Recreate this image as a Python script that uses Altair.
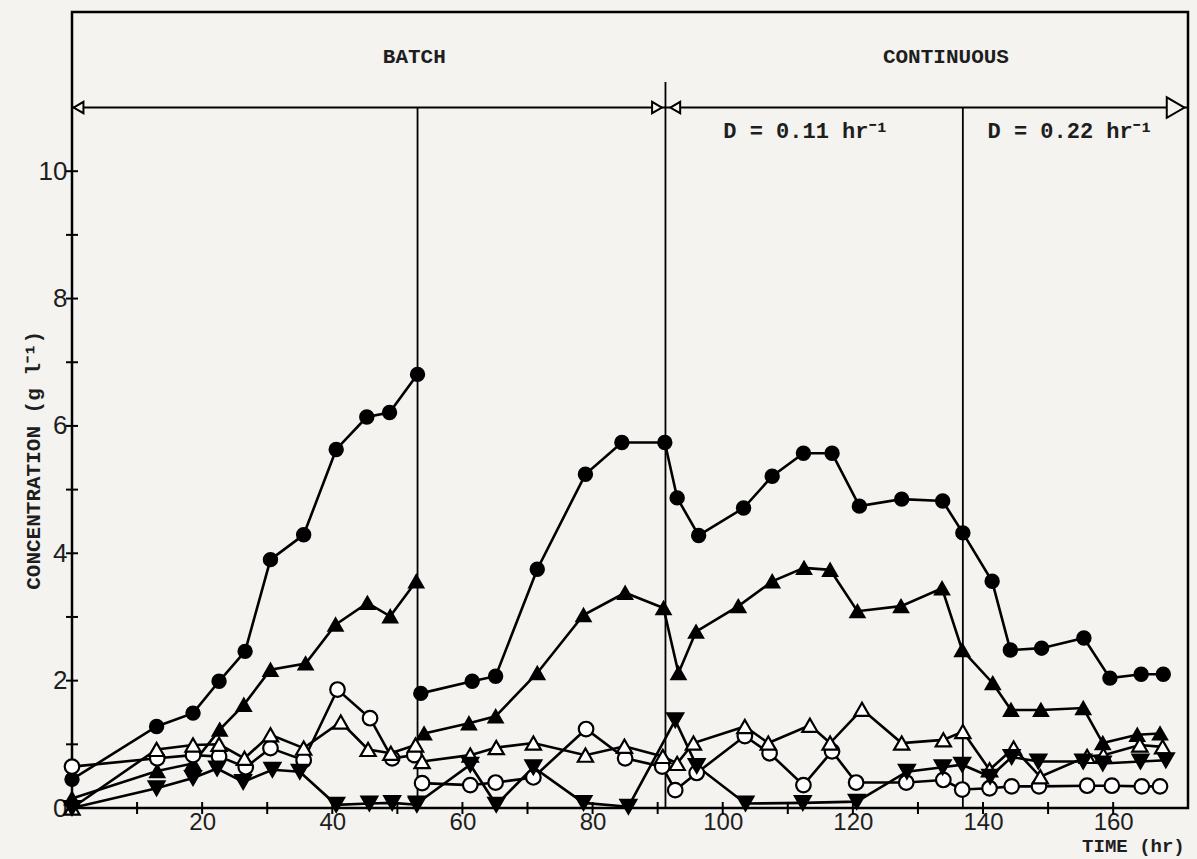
import altair as alt
import pandas as pd

# ---- measured concentrations (g/l) against time (hr) ----
# segment 1: first batch (0-53 hr); segment 2: second batch then continuous run
FC_T1 = [0, 13.0, 18.6, 22.6, 26.6, 30.5, 35.6, 40.6, 45.3, 48.8, 53.1]
FC_V1 = [0.45, 1.28, 1.49, 1.99, 2.46, 3.90, 4.29, 5.63, 6.14, 6.21, 6.81]
FC_T2 = [53.6, 61.5, 65.1, 71.5, 78.9, 84.5, 91.1, 93.0, 96.3, 103.2, 107.6, 112.4,
         116.8, 121.0, 127.5, 133.8, 136.9, 141.4, 144.2, 149.0, 155.5, 159.5, 164.3, 167.7]
FC_V2 = [1.80, 1.99, 2.07, 3.75, 5.24, 5.74, 5.74, 4.87, 4.28, 4.71, 5.21, 5.57,
         5.57, 4.74, 4.85, 4.82, 4.32, 3.56, 2.48, 2.51, 2.67, 2.04, 2.10, 2.10]

FU_T1 = [0, 13.1, 18.6, 22.7, 26.4, 30.5, 35.9, 40.5, 45.4, 48.9, 52.9]
FU_V1 = [0.15, 0.58, 0.70, 1.23, 1.62, 2.17, 2.27, 2.88, 3.22, 3.01, 3.56]
FU_T2 = [54.1, 61.0, 65.1, 71.5, 78.6, 85.0, 90.9, 93.2, 95.9, 102.4, 107.6, 112.5,
         116.5, 120.7, 127.4, 133.7, 136.8, 141.5, 144.3, 148.9, 155.4, 158.4, 163.7, 167.2]
FU_V2 = [1.17, 1.33, 1.44, 2.12, 3.03, 3.38, 3.14, 2.12, 2.77, 3.17, 3.56, 3.77,
         3.74, 3.09, 3.17, 3.45, 2.48, 1.96, 1.54, 1.54, 1.57, 1.02, 1.15, 1.17]

OC_T1 = [0, 13.1, 18.6, 22.6, 26.7, 30.5, 35.6, 40.8, 45.8, 49.2, 52.6]
OC_V1 = [0.65, 0.78, 0.83, 0.81, 0.64, 0.94, 0.75, 1.86, 1.41, 0.78, 0.83]
OC_T2 = [53.8, 61.2, 65.1, 70.9, 79.0, 85.0, 90.7, 92.7, 96.0, 103.4, 107.2, 112.4,
         116.8, 120.5, 128.2, 133.9, 136.8, 141.0, 144.4, 148.6, 156.0, 159.8, 164.4, 167.2]
OC_V2 = [0.39, 0.36, 0.40, 0.48, 1.24, 0.78, 0.65, 0.28, 0.55, 1.13, 0.86, 0.36,
         0.89, 0.40, 0.40, 0.44, 0.29, 0.31, 0.34, 0.34, 0.35, 0.35, 0.34, 0.34]

OU_T1 = [0, 13.0, 18.6, 22.6, 26.5, 30.5, 35.6, 41.3, 45.5, 49.0, 52.8]
OU_V1 = [0.0, 0.92, 0.99, 1.00, 0.78, 1.15, 0.94, 1.35, 0.92, 0.86, 0.99]
OU_T2 = [53.8, 61.2, 65.2, 70.9, 78.9, 84.9, 90.8, 93.0, 95.5, 103.4, 107.0, 113.4,
         116.5, 121.4, 127.5, 133.9, 136.9, 141.0, 144.7, 148.8, 156.0, 158.5, 164.1, 167.6]
OU_V2 = [0.73, 0.83, 0.95, 1.02, 0.83, 0.97, 0.81, 0.70, 1.02, 1.28, 1.02, 1.30,
         1.02, 1.55, 1.02, 1.07, 1.20, 0.60, 0.94, 0.49, 0.81, 0.83, 0.99, 0.96]

FD_T1 = [0, 13.0, 18.6, 22.3, 26.3, 30.8, 35.0, 40.6, 45.7, 49.2, 53.0]
FD_V1 = [0.0, 0.31, 0.47, 0.62, 0.41, 0.60, 0.57, 0.05, 0.07, 0.08, 0.05]
FD_T2 = [53.0, 61.2, 65.2, 70.9, 78.6, 85.5, 92.7, 96.0, 103.5, 112.3, 120.6,
         128.3, 133.8, 136.8, 141.1, 144.4, 148.5, 155.4, 158.4, 164.2, 168.1]
FD_V2 = [0.07, 0.68, 0.05, 0.64, 0.08, 0.02, 1.38, 0.66, 0.07, 0.08, 0.10,
         0.57, 0.64, 0.68, 0.49, 0.80, 0.73, 0.73, 0.70, 0.73, 0.75]

SERIES = ["filled circle", "filled up", "open circle", "open up", "filled down"]
SHAPES = ["circle", "triangle-up", "circle", "triangle-up", "triangle-down"]
FILLS = ["black", "black", "white", "white", "black"]
SIZES = [175, 250, 150, 220, 250]

# ---- annotation content ----
DIVIDER_T = [53.1, 91.2, 136.9]
DIVIDER_TOP = [11.0, 11.4, 11.0]
ARROW_LEVEL = 11.0
ARROW_SPAN = [0.0, 171.5]
SMALL_HEAD_T = [1.0, 89.9, 92.7]
SMALL_HEAD_SHAPE = ["triangle-left", "triangle-right", "triangle-left"]
BIG_HEAD_T = [169.6]
PHASES = ["BATCH", "CONTINUOUS"]
PHASE_T = [52.6, 134.3]
PHASE_V = [11.8, 11.8]
RATES = ["D = 0.11 hr\u207b\u00b9", "D = 0.22 hr\u207b\u00b9"]
RATE_T = [112.8, 153.4]
RATE_V = [10.63, 10.63]
X_TICKS = list(range(10, 170, 10))
X_LABELS = list(range(20, 180, 20))
Y_TICKS = list(range(1, 11))
Y_LABELS = [0, 2, 4, 6, 8, 10]

X_MAX = 171.5
Y_MAX = 12.5
W, H = 1116, 796
BG = "#f4f3ef"
INK = "#1e1e1e"
MONO = "Liberation Mono"
SANS = "Liberation Sans"

rows = []
for name, segs in zip(SERIES, [
    [(FC_T1, FC_V1), (FC_T2, FC_V2)],
    [(FU_T1, FU_V1), (FU_T2, FU_V2)],
    [(OC_T1, OC_V1), (OC_T2, OC_V2)],
    [(OU_T1, OU_V1), (OU_T2, OU_V2)],
    [(FD_T1, FD_V1), (FD_T2, FD_V2)],
]):
    for k, (ts, vs) in enumerate(segs, start=1):
        for t, v in zip(ts, vs):
            rows.append({"t": t, "v": v, "series": name, "seg": k})
df = pd.DataFrame(rows)

xs = alt.Scale(domain=[0, X_MAX], nice=False, zero=False)
ys = alt.Scale(domain=[0, Y_MAX], nice=False, zero=False)

X = alt.X("t:Q", scale=xs, axis=alt.Axis(
    values=X_LABELS, format="d", title=None, domain=False, ticks=False, grid=False,
    labelFont=SANS, labelFontSize=24, labelPadding=2, labelColor=INK))
Y = alt.Y("v:Q", scale=ys, axis=alt.Axis(
    values=Y_LABELS, format="d", title=None, domain=False, ticks=False, grid=False,
    labelFont=SANS, labelFontSize=26, labelPadding=5, labelColor=INK))

base = alt.Chart(df)

lines = base.mark_line(color="black", strokeWidth=2.6).encode(
    x=X, y=Y, detail=["series:N", "seg:N"], order="t:Q")

points = base.mark_point(filled=True, stroke="black", strokeWidth=2.2,
                         opacity=1, fillOpacity=1).encode(
    x="t:Q", y="v:Q",
    shape=alt.Shape("series:N", scale=alt.Scale(domain=SERIES, range=SHAPES), legend=None),
    fill=alt.Fill("series:N", scale=alt.Scale(domain=SERIES, range=FILLS), legend=None),
    size=alt.Size("series:N", scale=alt.Scale(domain=SERIES, range=SIZES), legend=None),
)

div_df = pd.DataFrame({"t": DIVIDER_T, "bottom": [0.0] * len(DIVIDER_T), "top": DIVIDER_TOP})
dividers = alt.Chart(div_df).mark_rule(color="black", strokeWidth=1.8).encode(
    x="t:Q", y="bottom:Q", y2="top:Q")

arrow_df = pd.DataFrame({"t": [ARROW_SPAN[0]], "t2": [ARROW_SPAN[1]], "v": [ARROW_LEVEL]})
arrow_line = alt.Chart(arrow_df).mark_rule(color="black", strokeWidth=2.2).encode(
    x="t:Q", x2="t2:Q", y="v:Q")

small_df = pd.DataFrame({"t": SMALL_HEAD_T, "shape": SMALL_HEAD_SHAPE,
                         "v": [ARROW_LEVEL] * len(SMALL_HEAD_T)})
small_heads = alt.Chart(small_df).mark_point(
    filled=True, fill=BG, stroke="black", strokeWidth=2, size=130, opacity=1).encode(
    x="t:Q", y="v:Q",
    shape=alt.Shape("shape:N", scale=alt.Scale(domain=SMALL_HEAD_SHAPE[:2],
                                               range=SMALL_HEAD_SHAPE[:2]), legend=None))

big_df = pd.DataFrame({"t": BIG_HEAD_T, "v": [ARROW_LEVEL]})
big_head = alt.Chart(big_df).mark_point(
    shape="triangle-right", filled=True, fill=BG, stroke="black", strokeWidth=2,
    size=420, opacity=1).encode(x="t:Q", y="v:Q")

xt_df = pd.DataFrame({"t": X_TICKS, "v": [0] * len(X_TICKS)})
x_ticks = alt.Chart(xt_df).mark_tick(orient="vertical", size=12, thickness=2,
                                     color="black", opacity=1).encode(x="t:Q", y="v:Q")
yt_df = pd.DataFrame({"t": [0] * len(Y_TICKS), "v": Y_TICKS})
y_ticks = alt.Chart(yt_df).mark_tick(orient="horizontal", size=12, thickness=2,
                                     color="black", opacity=1).encode(x="t:Q", y="v:Q")

phase_df = pd.DataFrame({"label": PHASES, "t": PHASE_T, "v": PHASE_V})
phase_text = alt.Chart(phase_df).mark_text(
    font=MONO, fontSize=21, fontWeight="bold", color=INK,
    align="center", baseline="middle").encode(x="t:Q", y="v:Q", text="label:N")

rate_df = pd.DataFrame({"label": RATES, "t": RATE_T, "v": RATE_V})
rate_text = alt.Chart(rate_df).mark_text(
    font=MONO, fontSize=22, fontWeight="bold", color=INK,
    align="center", baseline="middle").encode(x="t:Q", y="v:Q", text="label:N")

ytitle = alt.Chart(pd.DataFrame({"label": ["CONCENTRATION (g l\u207b\u00b9)"],
                                  "t": [-5.8], "v": [5.46]})).mark_text(
    font=MONO, fontSize=21, fontWeight="bold", angle=270, color=INK,
    align="center", baseline="middle").encode(x="t:Q", y="v:Q", text="label:N")

xtitle = alt.Chart(pd.DataFrame({"label": ["TIME (hr)"], "t": [171.0], "v": [-0.6]})).mark_text(
    font=MONO, fontSize=19, fontWeight="bold", color=INK,
    align="right", baseline="middle").encode(x="t:Q", y="v:Q", text="label:N")

chart = alt.layer(
    lines, dividers, arrow_line, x_ticks, y_ticks, points,
    small_heads, big_head, phase_text, rate_text, ytitle, xtitle,
).resolve_scale(shape="independent").properties(
    width=W, height=H,
    autosize=alt.AutoSizeParams(type="none"),
    padding={"left": 72, "top": 12, "right": 9, "bottom": 51},
    background=BG,
).configure_view(
    stroke="black", strokeWidth=2.5, fill=BG,
)

chart.save("out.html", embed_options={"renderer": "svg", "actions": False})
